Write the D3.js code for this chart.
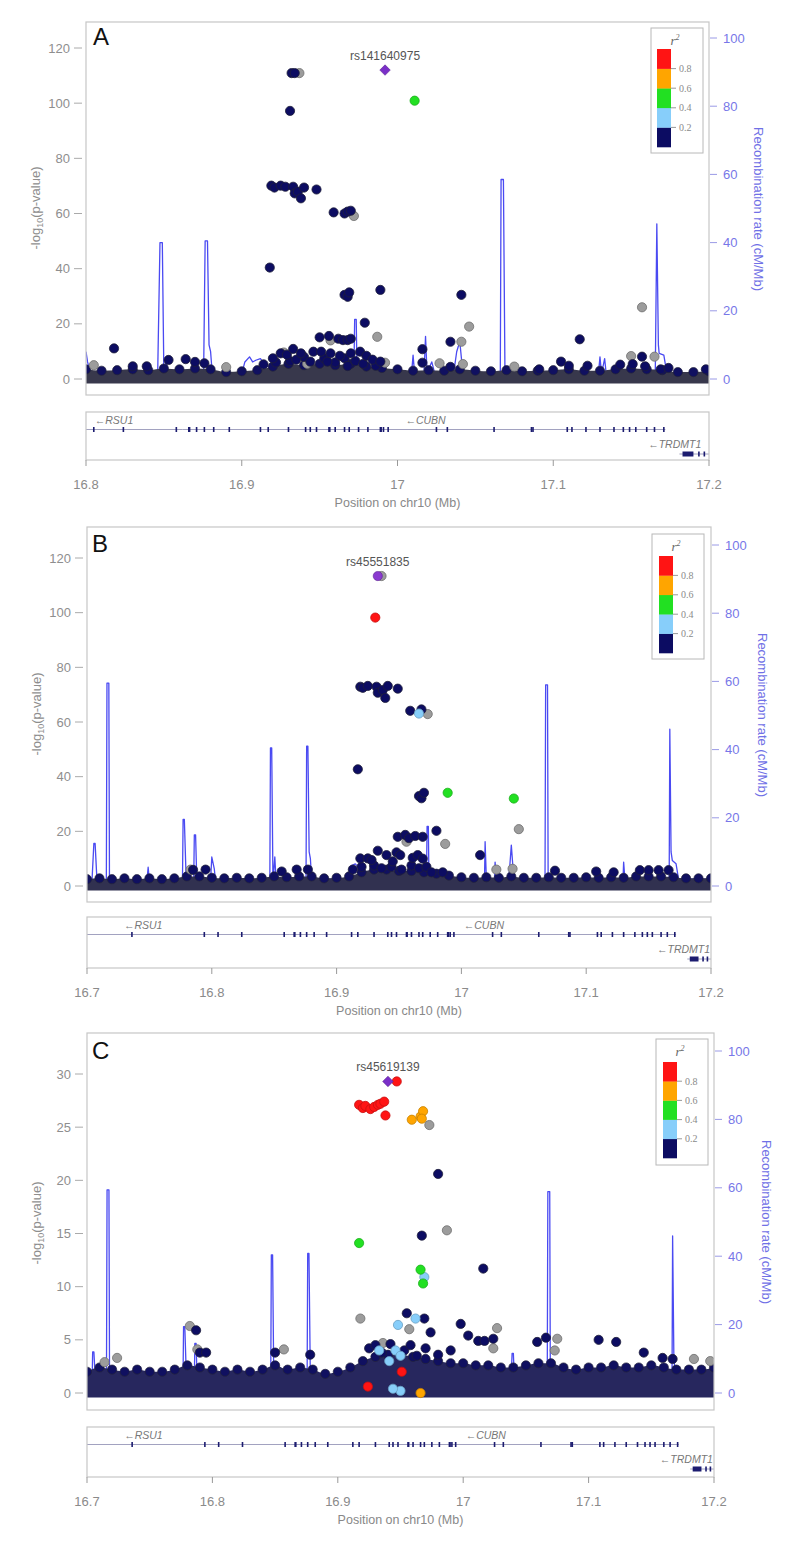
<!DOCTYPE html>
<html><head><meta charset="utf-8">
<script src="https://cdn.jsdelivr.net/npm/d3@7"></script>
<style>body{margin:0;background:#fff}svg{display:block}</style>
</head><body>
<svg id="chart" width="800" height="1546"></svg>
<script>
// ---------------- DATA ----------------
const r2Breaks = [0.2, 0.4, 0.6, 0.8];
const r2Colors = ["#0c0c62", "#87cefa", "#22e022", "#ffa500", "#ff1414"];
const legendLabels = ["0.2", "0.4", "0.6", "0.8"];

const leadNames = ["rs141640975", "rs45551835", "rs45619139"];
const leadPos = [16.992, 16.933, 16.940];
const leadLogP = [112.0, 113.4, 29.3];

// [position Mb, -log10 p, r2 (null = no LD info)]
const aSnps = [
[16.805,5.0,null],[16.818,11.1,0.1],[16.830,4.6,0.1],[16.839,4.6,0.1],[16.853,6.9,0.1],[16.864,7.2,0.1],[16.870,6.2,0.1],[16.876,5.7,0.1],[16.890,4.3,null],[16.914,5.3,0.1],
[16.922,6.0,0.1],[16.931,6.5,0.1],[16.940,8.0,0.1],[16.942,5.5,null],[16.953,7.5,0.1],[16.960,6.0,0.1],[16.966,7.5,0.1],[16.973,6.5,0.1],[16.978,5.5,0.1],[16.986,4.8,0.1],
[16.920,7.5,0.1],[16.925,9.3,0.1],[16.927,9.6,null],[16.929,8.8,0.1],[16.933,10.9,0.1],[16.935,7.0,0.1],[16.938,9.3,0.1],[16.944,6.3,0.1],[16.946,9.9,0.1],[16.951,9.9,0.1],[16.955,6.3,0.1],[16.957,9.3,0.1],[16.963,8.4,0.1],[16.968,4.7,0.1],[16.970,9.3,0.1],[16.976,9.9,0.1],[16.980,8.4,0.1],[16.984,7.0,0.1],[16.989,6.3,0.1],[16.992,5.9,null],
[16.950,15.1,0.1],[16.956,15.6,0.1],[16.957,14.0,null],[16.962,14.6,0.1],[16.965,14.1,0.1],[16.968,14.1,0.1],[16.970,14.6,0.1],[16.987,15.3,null],
[16.979,20.4,0.1],[16.966,30.5,0.1],[16.968,29.8,0.1],[16.969,31.4,0.1],[16.989,32.3,0.1],[16.918,40.4,0.1],
[16.959,60.4,0.1],[16.966,60.0,0.1],[16.968,60.7,0.1],[16.970,61.0,0.1],[16.972,59.1,null],
[16.919,70.1,0.1],[16.921,69.4,0.1],[16.925,70.1,0.1],[16.928,69.7,0.1],[16.933,69.7,0.1],[16.934,67.3,0.1],[16.936,67.9,0.1],[16.938,65.5,0.1],[16.940,69.4,0.1],[16.948,68.7,0.1],
[16.931,97.2,0.1],[16.932,110.9,0.1],[16.934,110.9,0.1],[16.937,110.9,null],
[17.011,100.9,0.5],
[17.016,10.8,0.1],[17.016,5.9,0.1],[17.027,5.7,null],[17.034,13.5,0.1],[17.034,4.4,0.1],[17.041,13.5,null],[17.041,30.5,0.1],[17.042,5.4,null],[17.046,19.0,null],[17.075,4.5,null],[17.091,3.5,0.1],[17.105,6.3,0.1],[17.110,4.8,0.1],[17.117,14.4,0.1],[17.122,4.8,0.1],[17.143,5.2,0.1],[17.150,8.3,null],[17.151,5.4,0.1],[17.157,8.1,0.1],[17.157,26.0,null],[17.159,4.6,0.1],[17.165,8.1,null],[17.169,3.5,0.1],[17.174,4.0,0.1],[17.198,3.5,0.1]
];
const bSnps = [
[16.783,6.0,null],[16.785,5.9,0.1],[16.795,6.0,0.1],[16.856,5.3,0.1],[16.868,6.0,0.1],[16.877,6.0,0.1],[16.913,6.0,0.1],
[16.920,7.0,0.1],[16.930,7.5,0.1],[16.936,6.5,0.1],[16.944,7.0,0.1],[16.952,6.0,0.1],[16.960,7.5,0.1],[16.966,6.5,0.1],[16.972,7.0,0.1],[16.976,5.0,0.1],[16.985,5.0,0.1],
[16.919,10.1,0.1],[16.925,10.1,0.1],[16.928,9.5,0.1],[16.933,12.9,0.1],[16.940,11.3,0.1],[16.945,9.0,0.1],[16.948,12.3,0.1],[16.951,11.3,0.1],[16.961,10.3,0.1],[16.965,11.3,0.1],[16.969,10.0,0.1],
[16.956,16.2,null],[16.949,18.0,0.1],[16.955,18.7,0.1],[16.958,17.5,0.1],[16.963,18.3,0.1],[16.969,18.0,0.1],
[16.980,20.2,0.1],[16.987,15.4,null],[17.015,11.3,0.1],[17.046,20.8,null],
[16.966,32.9,0.1],[16.968,32.1,0.1],[16.970,34.1,0.1],[16.989,34.1,0.5],[17.042,32.0,0.5],
[16.917,42.7,0.1],
[16.959,64.1,0.1],[16.968,64.6,0.1],[16.973,62.9,null],[16.966,63.1,0.3],
[16.919,72.9,0.1],[16.921,72.5,0.1],[16.925,73.2,0.1],[16.932,72.9,0.1],[16.933,70.7,0.1],[16.937,71.7,0.1],[16.939,68.8,0.1],[16.941,73.2,0.1],[16.949,72.2,0.1],
[16.931,98.2,0.9],[16.936,113.4,null],
[17.028,6.0,null],[17.041,6.3,null],[17.075,5.6,0.1],[17.108,5.3,0.1],[17.122,5.0,0.1],[17.143,5.8,0.1],[17.150,5.8,0.1],[17.158,5.8,0.1],[17.166,5.8,0.1]
];
const cSnps = [
[16.714,2.9,null],[16.724,3.3,null],[16.782,6.3,null],[16.787,5.9,0.1],[16.788,4.1,null],[16.790,3.8,0.1],[16.795,3.8,0.1],[16.850,3.8,0.1],[16.857,4.1,null],[16.878,3.6,0.1],
[16.918,7.0,null],[16.925,4.2,0.1],[16.930,4.5,0.1],[16.935,3.8,0.1],[16.936,4.7,null],[16.942,4.6,0.1],[16.953,4.0,0.1],[16.958,4.5,0.1],[16.963,3.5,0.1],[16.970,4.2,0.1],[16.980,3.6,0.1],[16.990,4.0,0.1],
[16.955,7.5,0.1],[16.969,7.0,0.1],[16.998,6.5,0.1],[16.957,6.0,null],[16.974,5.7,0.1],[17.004,5.4,0.1],[17.012,4.9,0.1],[17.017,4.9,0.1],[17.024,5.1,0.1],[17.027,6.1,null],[17.024,4.2,null],
[17.059,4.8,0.1],[17.066,5.2,0.1],[17.075,5.1,null],[17.073,4.0,null],[17.108,5.0,0.1],[17.122,4.8,0.1],[17.144,3.8,0.1],[17.159,3.3,0.1],[17.167,3.2,0.1],[17.184,3.2,null],[17.197,3.0,null],
[16.933,4.0,0.3],[16.946,4.0,0.3],[16.941,3.0,0.3],[16.950,3.5,0.3],[16.948,6.4,0.3],[16.962,7.0,0.3],
[16.924,0.6,0.9],[16.951,2.0,0.9],[16.950,0.2,0.3],[16.944,0.4,0.3],[16.966,0.0,0.7],
[16.967,14.8,0.1],[16.980,20.6,0.1],[16.987,15.3,null],[17.016,11.7,0.1],[16.917,14.1,0.5],[16.966,11.6,0.5],[16.968,10.3,0.5],[16.969,10.9,0.3],
[16.973,25.2,null],[16.959,25.7,0.7],[16.966,26.0,0.7],[16.968,26.5,0.7],[16.967,25.8,0.7],
[16.917,27.1,0.9],[16.920,26.8,0.9],[16.922,27.0,0.9],[16.926,26.7,0.9],[16.929,26.9,0.9],[16.932,27.1,0.9],[16.934,27.2,0.9],[16.937,27.4,0.9],[16.938,26.1,0.9],[16.947,29.3,0.9]
];

// upper edge of the dense cloud of weak SNPs: [position Mb, -log10 p]
const aFloor = [[16.80,3.5],[16.81,3.0],[16.82,3.2],[16.83,3.5],[16.84,3.2],[16.85,3.8],[16.86,3.5],[16.87,3.8],[16.88,3.5],[16.89,2.5],[16.90,2.8],[16.91,3.2],[16.92,4.5],[16.93,5.5],[16.94,5.0],[16.95,5.5],[16.96,5.0],[16.97,5.5],[16.98,4.5],[16.99,4.0],[17.00,3.5],[17.01,3.0],[17.02,3.2],[17.03,3.0],[17.04,3.5],[17.05,3.0],[17.06,2.8],[17.07,3.2],[17.08,2.8],[17.09,3.0],[17.10,3.2],[17.11,3.5],[17.12,3.0],[17.13,3.0],[17.14,3.5],[17.15,3.8],[17.16,3.5],[17.17,3.2],[17.18,2.5],[17.19,2.5],[17.20,2.8]];
const bFloor = [[16.70,2.5],[16.71,2.8],[16.72,2.5],[16.73,2.8],[16.74,2.5],[16.75,2.8],[16.76,2.5],[16.77,2.8],[16.78,3.5],[16.79,3.5],[16.80,3.0],[16.81,2.8],[16.82,3.0],[16.83,2.8],[16.84,3.0],[16.85,3.5],[16.86,3.2],[16.87,3.5],[16.88,3.5],[16.89,2.8],[16.90,3.0],[16.91,3.5],[16.92,5.0],[16.93,6.0],[16.94,6.0],[16.95,5.5],[16.96,5.5],[16.97,5.0],[16.98,4.5],[16.99,3.8],[17.00,3.2],[17.01,3.0],[17.02,3.2],[17.03,3.0],[17.04,3.5],[17.05,3.0],[17.06,3.0],[17.07,3.2],[17.08,3.0],[17.09,3.0],[17.10,3.2],[17.11,3.0],[17.12,3.2],[17.13,3.0],[17.14,3.5],[17.15,3.5],[17.16,3.5],[17.17,3.2],[17.18,2.8],[17.19,2.8],[17.20,2.8]];
const cFloor = [[16.70,2.0],[16.71,2.4],[16.72,2.2],[16.73,2.0],[16.74,2.2],[16.75,2.0],[16.76,2.0],[16.77,2.2],[16.78,2.6],[16.79,2.4],[16.80,2.2],[16.81,2.0],[16.82,2.2],[16.83,2.0],[16.84,2.2],[16.85,2.6],[16.86,2.2],[16.87,2.4],[16.88,2.2],[16.89,1.8],[16.90,2.0],[16.91,2.4],[16.92,3.0],[16.93,3.4],[16.94,3.6],[16.95,3.6],[16.96,3.4],[16.97,3.2],[16.98,3.0],[16.99,2.8],[17.00,2.8],[17.01,2.6],[17.02,2.6],[17.03,2.4],[17.04,2.4],[17.05,2.6],[17.06,2.8],[17.07,2.8],[17.08,2.4],[17.09,2.2],[17.10,2.4],[17.11,2.4],[17.12,2.6],[17.13,2.4],[17.14,2.4],[17.15,2.6],[17.16,2.4],[17.17,2.2],[17.18,2.2],[17.19,2.2],[17.20,2.4]];

// recombination rate: [position Mb, cM/Mb]
const aRecomb = [[16.800,8],[16.801,5],[16.803,1.5],[16.846,1.0],[16.8475,40],[16.849,40],[16.850,1.5],[16.8515,5],[16.8525,1.5],[16.8755,1.0],[16.8765,40.5],[16.878,40.5],[16.879,10],[16.880,8],[16.881,2],[16.900,1.5],[16.902,5],[16.905,6.5],[16.907,5],[16.909,5.5],[16.912,6],[16.915,4],[16.920,3],[16.940,2],[16.972,2],[16.9725,17.5],[16.9735,17.5],[16.974,2],[17.009,1.5],[17.010,7],[17.011,1.5],[17.017,1.5],[17.018,12.5],[17.019,1.5],[17.020,3],[17.022,5],[17.024,1.5],[17.036,1.5],[17.038,8],[17.040,11],[17.042,1.5],[17.066,1.5],[17.0665,58.5],[17.068,58.5],[17.069,1.5],[17.129,1.5],[17.130,6.5],[17.131,1.5],[17.133,6],[17.134,1.5],[17.1655,1.5],[17.1665,45.5],[17.1675,10],[17.168,7.5],[17.171,7],[17.173,1.5],[17.200,1.5]];
const bRecomb = [[16.700,1.5],[16.704,1.5],[16.7055,12.5],[16.7065,12.5],[16.708,1.5],[16.7155,1.5],[16.716,59.5],[16.7175,59.5],[16.718,1.5],[16.748,1.5],[16.749,5.5],[16.750,1.5],[16.7765,1.5],[16.777,19.5],[16.778,19.5],[16.7795,1.5],[16.7855,1.5],[16.786,15],[16.787,15],[16.788,1.5],[16.799,1.5],[16.800,8.5],[16.802,5],[16.803,1.5],[16.8465,1.5],[16.847,40.5],[16.848,40.5],[16.849,1.5],[16.8505,8.5],[16.8515,1.5],[16.8755,1.5],[16.876,41],[16.877,41],[16.878,10],[16.879,8],[16.880,2],[16.910,2],[16.912,6],[16.915,6.5],[16.920,4.5],[16.940,3],[16.972,2],[16.9725,17.5],[16.9735,17.5],[16.974,2],[17.0185,2],[17.019,13],[17.020,2],[17.0265,2],[17.027,7],[17.028,2],[17.038,2],[17.040,12],[17.042,2],[17.067,2],[17.0675,59],[17.069,59],[17.0695,2],[17.1295,2],[17.130,7],[17.131,2],[17.1665,2],[17.167,46],[17.168,10],[17.169,7.5],[17.172,6.5],[17.174,2],[17.200,2]];
const cRecomb = [[16.700,1.5],[16.704,1.5],[16.7045,12],[16.7055,12],[16.707,1.5],[16.7155,1.5],[16.716,59.4],[16.7175,59.4],[16.718,1.5],[16.7765,1.5],[16.777,19.4],[16.778,19.4],[16.7795,1.5],[16.7855,1.5],[16.786,14.5],[16.787,14.5],[16.788,1.5],[16.8465,1.5],[16.847,40.4],[16.848,40.4],[16.849,1.5],[16.8755,1.5],[16.876,40.8],[16.877,40.8],[16.878,8],[16.880,2],[16.910,2],[16.915,6],[16.920,4],[16.940,3],[16.972,2],[16.9725,9],[16.9735,9],[16.974,2],[17.038,2],[17.039,11.6],[17.040,11.6],[17.041,2],[17.067,2],[17.0675,58.9],[17.069,58.9],[17.0695,2],[17.1665,2],[17.167,45.9],[17.168,10],[17.170,3],[17.200,2]];

// genes
const geneNames = ["RSU1", "CUBN", "TRDMT1"];
const geneStart = [16.600, 16.862, 17.181];
const geneEnd = [16.862, 17.172, 17.260];
const geneRow = [0, 0, 1];
const geneLabelPosA = [16.818, 17.018, 17.178];
const geneLabelPosBC = [16.745, 17.018, 17.178];
const exonPos = [16.736,16.794,16.805,16.824,16.858,16.866,16.8665,16.871,16.876,16.882,16.892,16.912,16.917,16.930,16.941,16.944,16.948,16.956,16.9565,16.960,16.966,16.969,16.975,16.981,16.989,16.9895,16.991,16.994,17.025,17.032,17.062,17.086,17.087,17.109,17.112,17.121,17.130,17.139,17.145,17.149,17.153,17.160,17.165,17.171];
const trdmt1Exons = [[17.183,17.190],[17.193,17.194],[17.1965,17.1975]];

// ---------------- LAYOUT ----------------
const layouts = [
 {key:"A", snps:aSnps, floor:aFloor, recomb:aRecomb, lead:0, labels:geneLabelPosA, leadShape:"diamond",
  x0:86, x1:709, y0:22, y1:395, xDom:[16.8,17.2], yMax:120, yZero:379, yTop:48, yStep:20, rTop:38,
  g0:412, g1:460, letter:[93,45], leg:{x:651,y:28,w:52,h:125,bx:657,by0:49,by1:147,bw:14},
  ylab:[40,208], rlab:[754,209], band:"#38384c"},
 {key:"B", snps:bSnps, floor:bFloor, recomb:bRecomb, lead:1, labels:geneLabelPosBC, leadShape:"circle",
  x0:87, x1:711, y0:527, y1:902, xDom:[16.7,17.2], yMax:120, yZero:886, yTop:558, yStep:20, rTop:545,
  g0:917, g1:968, letter:[92,552], leg:{x:652,y:534,w:52,h:125,bx:659,by0:556,by1:653,bw:14},
  ylab:[41,714], rlab:[758,715], band:"#313150"},
 {key:"C", snps:cSnps, floor:cFloor, recomb:cRecomb, lead:2, labels:geneLabelPosBC, leadShape:"diamond",
  x0:87, x1:714, y0:1033, y1:1410, xDom:[16.7,17.2], yMax:30, yZero:1393, yTop:1074, yStep:5, rTop:1051,
  g0:1427, g1:1477, letter:[92,1059], leg:{x:656,y:1039,w:52,h:126,bx:663,by0:1062,by1:1158,bw:14},
  ylab:[41,1223], rlab:[762,1222], band:"#27275e"}
];

const svg = d3.select("#chart");
const SANS = "'Liberation Sans', Arial, sans-serif";
const SERIF = "'Liberation Serif', 'Times New Roman', serif";
const R = 4.6;
const colorOf = d3.scaleThreshold().domain(r2Breaks).range(r2Colors);
function fillFor(r){ return r == null ? "#9c9c9c" : colorOf(r); }
function strokeFor(r){ return r == null ? "#6e6e6e" : (r < 0.2 ? "#20203a" : d3.color(colorOf(r)).darker(0.7)); }

layouts.forEach(cfg => {
  const g = svg.append("g");
  const x = d3.scaleLinear().domain(cfg.xDom).range([cfg.x0, cfg.x1]);
  const y = d3.scaleLinear().domain([0, cfg.yMax]).range([cfg.yZero, cfg.yTop]);
  const yr = d3.scaleLinear().domain([0, 100]).range([cfg.yZero, cfg.rTop]);

  const clipId = "clip" + cfg.key;
  svg.append("clipPath").attr("id", clipId).append("rect")
    .attr("x", cfg.x0).attr("y", cfg.y0).attr("width", cfg.x1 - cfg.x0).attr("height", cfg.y1 - cfg.y0);
  const plot = g.append("g").attr("clip-path", `url(#${clipId})`);

  // recombination line
  plot.append("path").datum(cfg.recomb)
    .attr("d", d3.line().x(d => x(d[0])).y(d => yr(d[1])))
    .attr("fill", "none").attr("stroke", "#4a4af2").attr("stroke-width", 1.3).attr("stroke-linejoin", "round");

  // dense cloud of weak SNPs
  plot.append("path").datum(cfg.floor)
    .attr("d", d3.area().x(d => x(d[0])).y0(y(0) + R).y1(d => y(d[1])).curve(d3.curveMonotoneX))
    .attr("fill", cfg.band);
  plot.selectAll("circle.fl").data(cfg.floor).join("circle").attr("class", "fl")
    .attr("cx", d => x(d[0])).attr("cy", d => y(d[1])).attr("r", R)
    .attr("fill", "#101060").attr("stroke", "#22223a").attr("stroke-width", 0.7);

  // SNPs, drawn in increasing LD order
  const ordered = cfg.snps.map((d, i) => ({p: d[0], v: d[1], r: d[2], i}))
    .sort((a, b) => ((a.r == null ? -1 : a.r) - (b.r == null ? -1 : b.r)) || (a.i - b.i));
  plot.selectAll("circle.snp").data(ordered).join("circle").attr("class", "snp")
    .attr("cx", d => x(d.p)).attr("cy", d => y(d.v)).attr("r", R)
    .attr("fill", d => fillFor(d.r)).attr("stroke", d => strokeFor(d.r)).attr("stroke-width", 0.8);

  // lead SNP
  const lx = x(leadPos[cfg.lead]), ly = y(leadLogP[cfg.lead]);
  if (cfg.leadShape === "diamond") {
    plot.append("path").attr("d", d3.symbol().type(d3.symbolDiamond2).size(70)())
      .attr("transform", `translate(${lx},${ly})`)
      .attr("fill", "#7a2fc8").attr("stroke", "#5a2090").attr("stroke-width", 0.6);
  } else {
    plot.append("circle").attr("cx", lx).attr("cy", ly).attr("r", R)
      .attr("fill", "#8a3ad0").attr("stroke", "#5a2090").attr("stroke-width", 0.6);
  }
  g.append("text").attr("x", lx).attr("y", ly - 10).attr("text-anchor", "middle")
    .attr("font-family", SANS).attr("font-size", 12).attr("fill", "#555")
    .text(leadNames[cfg.lead]);

  // frame
  g.append("rect").attr("x", cfg.x0).attr("y", cfg.y0).attr("width", cfg.x1 - cfg.x0).attr("height", cfg.y1 - cfg.y0)
    .attr("fill", "none").attr("stroke", "#c6c6c6").attr("stroke-width", 1.2);

  // panel letter
  g.append("text").attr("x", cfg.letter[0]).attr("y", cfg.letter[1])
    .attr("font-family", SANS).attr("font-size", 24).attr("fill", "#111").text(cfg.key);

  // left axis
  const yTicks = d3.range(0, cfg.yMax + 0.001, cfg.yStep);
  const la = g.append("g");
  la.selectAll("line").data(yTicks).join("line")
    .attr("x1", cfg.x0 - 12).attr("x2", cfg.x0 - 4).attr("y1", d => y(d)).attr("y2", d => y(d))
    .attr("stroke", "#aaa").attr("stroke-width", 1);
  la.selectAll("text").data(yTicks).join("text")
    .attr("x", cfg.x0 - 16).attr("y", d => y(d) + 4.5).attr("text-anchor", "end")
    .attr("font-family", SANS).attr("font-size", 13).attr("fill", "#8e8e8e").text(d => d);

  // right axis
  const rTicks = [0, 20, 40, 60, 80, 100];
  const ra = g.append("g");
  ra.selectAll("line").data(rTicks).join("line")
    .attr("x1", cfg.x1 + 1).attr("x2", cfg.x1 + 8).attr("y1", d => yr(d)).attr("y2", d => yr(d))
    .attr("stroke", "#9a9ae6").attr("stroke-width", 1);
  ra.selectAll("text").data(rTicks).join("text")
    .attr("x", cfg.x1 + 14).attr("y", d => yr(d) + 4.5)
    .attr("font-family", SANS).attr("font-size", 13).attr("fill", "#7777e8").text(d => d);

  // axis titles
  const yl = g.append("text").attr("transform", `translate(${cfg.ylab[0]},${cfg.ylab[1]}) rotate(-90)`)
    .attr("text-anchor", "middle").attr("font-family", SANS).attr("font-size", 13).attr("fill", "#8e8e8e");
  yl.append("tspan").text("-log");
  yl.append("tspan").attr("font-size", 9).attr("dy", 3).text("10");
  yl.append("tspan").attr("dy", -3).text("(p-value)");
  g.append("text").attr("transform", `translate(${cfg.rlab[0]},${cfg.rlab[1]}) rotate(90)`)
    .attr("text-anchor", "middle").attr("font-family", SANS).attr("font-size", 13).attr("fill", "#7070e6")
    .text("Recombination rate (cM/Mb)");

  // legend
  const L = cfg.leg;
  const lg = g.append("g");
  lg.append("rect").attr("x", L.x).attr("y", L.y).attr("width", L.w).attr("height", L.h)
    .attr("fill", "#fff").attr("stroke", "#b8b8b8").attr("stroke-width", 1);
  const bh = (L.by1 - L.by0) / r2Colors.length;
  lg.selectAll("rect.sw").data(r2Colors).join("rect").attr("class", "sw")
    .attr("x", L.bx).attr("y", (d, i) => L.by1 - (i + 1) * bh).attr("width", L.bw).attr("height", bh + 0.3)
    .attr("fill", d => d);
  lg.selectAll("line").data(legendLabels).join("line")
    .attr("x1", L.bx + L.bw).attr("x2", L.bx + L.bw + 5)
    .attr("y1", (d, i) => L.by1 - (i + 1) * bh).attr("y2", (d, i) => L.by1 - (i + 1) * bh)
    .attr("stroke", "#999");
  lg.selectAll("text.lab").data(legendLabels).join("text").attr("class", "lab")
    .attr("x", L.bx + L.bw + 8).attr("y", (d, i) => L.by1 - (i + 1) * bh + 3.5)
    .attr("font-family", SERIF).attr("font-size", 10).attr("fill", "#8a8a8a").text(d => d);
  const tt = lg.append("text").attr("x", L.x + L.w / 2 - 2).attr("y", L.y + 17).attr("text-anchor", "middle")
    .attr("font-family", SERIF).attr("font-style", "italic").attr("font-size", 13).attr("fill", "#666");
  tt.append("tspan").text("r");
  tt.append("tspan").attr("font-size", 8).attr("dy", -5).text("2");

  // gene track
  const gt = g.append("g");
  const gClip = "gclip" + cfg.key;
  svg.append("clipPath").attr("id", gClip).append("rect")
    .attr("x", cfg.x0).attr("y", cfg.g0).attr("width", cfg.x1 - cfg.x0).attr("height", cfg.g1 - cfg.g0);
  const gin = gt.append("g").attr("clip-path", `url(#${gClip})`);
  const rowY = [cfg.g0 + 17.5, cfg.g0 + 42];
  gin.selectAll("line.gene").data(geneNames).join("line").attr("class", "gene")
    .attr("x1", (d, i) => x(geneStart[i])).attr("x2", (d, i) => x(geneEnd[i]))
    .attr("y1", (d, i) => rowY[geneRow[i]]).attr("y2", (d, i) => rowY[geneRow[i]])
    .attr("stroke", "#8a8ab0").attr("stroke-width", 0.8);
  gin.selectAll("rect.ex").data(exonPos).join("rect").attr("class", "ex")
    .attr("x", d => x(d) - 0.8).attr("y", rowY[0] - 2.5).attr("width", 1.6).attr("height", 5)
    .attr("fill", "#1c1c70");
  gin.selectAll("rect.tx").data(trdmt1Exons).join("rect").attr("class", "tx")
    .attr("x", d => x(d[0])).attr("y", rowY[1] - 2.5).attr("width", d => Math.max(1.6, x(d[1]) - x(d[0])))
    .attr("height", 5).attr("fill", "#1c1c70");
  gin.selectAll("text.gl").data(geneNames).join("text").attr("class", "gl")
    .attr("x", (d, i) => x(cfg.labels[i])).attr("y", (d, i) => rowY[geneRow[i]] - 6)
    .attr("text-anchor", "middle").attr("font-family", SANS).attr("font-style", "italic")
    .attr("font-size", 10.5).attr("fill", "#777").text(d => "\u2190" + d);
  gt.append("rect").attr("x", cfg.x0).attr("y", cfg.g0).attr("width", cfg.x1 - cfg.x0).attr("height", cfg.g1 - cfg.g0)
    .attr("fill", "none").attr("stroke", "#c6c6c6").attr("stroke-width", 1.2);

  // x axis
  const xTicks = d3.range(Math.round(cfg.xDom[0] * 10), Math.round(cfg.xDom[1] * 10) + 1).map(d => d / 10);
  const xa = g.append("g");
  xa.selectAll("line").data(xTicks).join("line")
    .attr("x1", d => x(d)).attr("x2", d => x(d)).attr("y1", cfg.g1).attr("y2", cfg.g1 + 6)
    .attr("stroke", "#999");
  xa.selectAll("text").data(xTicks).join("text")
    .attr("x", d => x(d)).attr("y", cfg.g1 + 29).attr("text-anchor", "middle")
    .attr("font-family", SANS).attr("font-size", 13).attr("fill", "#8a8a8a").text(d => String(+d.toFixed(1)));
  g.append("text").attr("x", (cfg.x0 + cfg.x1) / 2).attr("y", cfg.g1 + 47).attr("text-anchor", "middle")
    .attr("font-family", SANS).attr("font-size", 12.5).attr("fill", "#888").text("Position on chr10 (Mb)");
});
</script>
</body></html>
